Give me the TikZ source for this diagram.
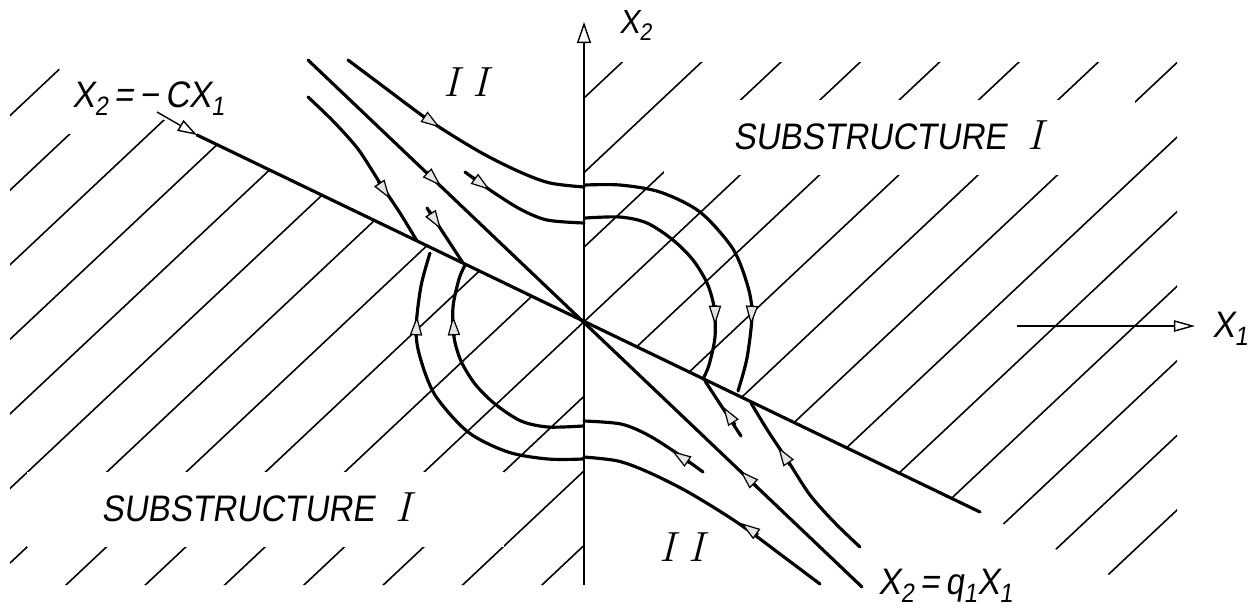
\documentclass[tikz,border=0pt]{standalone}
\usepackage{fontspec}
\usepackage{graphicx}
\usetikzlibrary{arrows.meta}
\newfontfamily\plotfont[FakeStretch=0.9,FakeSlant=0.15]{Liberation Sans}
\newcommand\sbs[1]{\raisebox{-0.22em}{\scalebox{0.72}{#1}}}
\newcommand\rom[1]{{\rmfamily\itshape\fontsize{24}{26}\selectfont #1}}
\tikzset{
  tri/.tip={Triangle[length=11pt, width=7pt, line width=0.7pt, fill=gray!20]},
  axtip/.tip={Triangle[open, length=12pt, width=8pt, line width=0.8pt]},
  ldtip/.tip={Triangle[open, length=11pt, width=7pt, line width=0.8pt]},
}
\newcommand\trajset{%
  \draw[traj] plot[smooth] coordinates {(348,60) (380,84) (430,121) (480,152) (520,172) (550,183) (584,187)};
  \draw[traj] plot[smooth] coordinates {(585,185) (620,185) (660,192) (700,212) (733,249) (748,287) (752,315) (747,358) (738,391)};
  \draw[traj] plot[smooth] coordinates {(465,172) (490,190) (520,209) (547,220) (584,223)};
  \draw[traj] plot[smooth] coordinates {(585,218) (620,217) (647,223) (673,240) (693,260) (707,283) (714,307) (715,337) (709,365) (703,379)};
  \draw[traj] plot[smooth] coordinates {(308,97) (333,121) (358,149) (380,183) (400,213) (417,241)};
  \draw[traj] (427,208) -- (463,263);
}
\begin{document}
\begin{tikzpicture}[x=0.02cm, y=-0.02cm,
  traj/.style={line width=1.8pt, line cap=round, line join=round},
  hatch/.style={line width=0.9pt},
  thinline/.style={line width=0.8pt},
  mk/.style={line width=1.8pt, -tri},
  lab/.style={inner sep=0pt, font=\plotfont\fontsize{21}{24}\selectfont}]
\useasboundingbox (0,0) rectangle (1257,610);
% hatching of substructure I
\begin{scope}
\clip (10,45.6) -- (584,322) -- (584,585) -- (10,585) -- cycle
      (584,322) -- (584,62) -- (1177,62) -- (1177,585) -- (1130.2,585) -- cycle;
\foreach \k in {0,...,20} {
  \pgfmathsetmacro\bb{125+74.57*\k}
  \draw[hatch] (0,\bb) -- (1257,\bb-1181.6);
}
\end{scope}
\fill[white] (27,472) rectangle (504,547);
\fill[white] (664,100) rectangle (1135,175);
\fill[white] (66,70) rectangle (140,134);
% axes
\coordinate (ax0) at (584,585);
\coordinate (ax1) at (584,22);
\draw[line width=1.1pt, -axtip] (ax0) -- (ax1);
\coordinate (x1s) at (1017,326);
\coordinate (x1e) at (1195,326);
\draw[thinline, -{Triangle[open, length=12pt, width=6.5pt, line width=0.8pt]}] (x1s) -- (x1e);
% switching line and eigen line
\coordinate (c0) at (197,135);
\coordinate (c1) at (980,512);
\draw[traj] (c0) -- (c1);
\coordinate (q0) at (308,60);
\coordinate (q1) at (862,587);
\draw[traj] (q0) -- (q1);
% trajectories
\trajset
\begin{scope}[rotate around={180:(584,322)}]
\trajset
\end{scope}
% arrow marks
\draw[mk] (423,116) -- (440,127.5);
\draw[mk] (758,535) -- (741,523);
\draw[mk] (472,177) -- (490,190);
\draw[mk] (690,463) -- (672,451);
\draw[mk] (426,171.7) -- (441,186);
\draw[mk] (756,486) -- (740,470.7);
\draw[mk] (378,181) -- (390,199);
\draw[mk] (790,465) -- (778,447);
\draw[mk] (429,211) -- (441,229.4);
\draw[mk] (735,425) -- (723,406.5);
\draw[mk] (715,305) -- (715,325);
\draw[mk] (752,305) -- (751,325);
\draw[mk] (416,336) -- (417,316);
\draw[mk] (454,336) -- (453,316);
% labels
\node[lab, anchor=base west] (lc) at (72,107) {X\sbs{2}\,=\,−\,CX\sbs{1}};
\coordinate (lct) at (157,112);
\draw[thinline, -ldtip] (lct) -- (c0);
\node[lab, anchor=base west] (lq) at (878,594) {X\sbs{2}\,=\,q\sbs{1}X\sbs{1}};
\node[lab, anchor=base west] (lx1) at (1212,337) {X\sbs{1}};
\node[lab, anchor=base west, font=\plotfont\fontsize{19}{22}\selectfont] (lx2) at (619,33) {X\sbs{2}};
\node[lab, anchor=base west] (s1) at (733,149) {SUBSTRUCTURE\hspace{12pt}\rom{I}};
\node[lab, anchor=base west] (s2) at (101,521) {SUBSTRUCTURE\hspace{12pt}\rom{I}};
\node[lab] (r1) at (466,82) {\rom{I\hspace{7pt}I}};
\node[lab] (r2) at (682,547) {\rom{I\hspace{7pt}I}};
\end{tikzpicture}
\end{document}
